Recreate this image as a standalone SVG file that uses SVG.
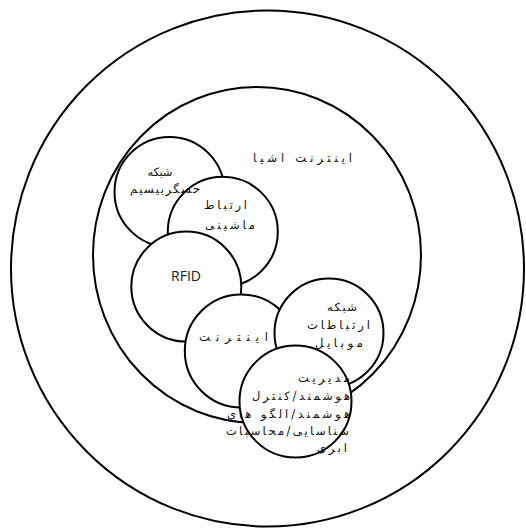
<svg xmlns="http://www.w3.org/2000/svg" width="526" height="529" viewBox="0 0 526 529">
  <style>
    .ring { fill: #fff; stroke: #000; stroke-width: 2; }
    .fa { font-family: "DejaVu Sans", "Noto Sans", sans-serif; font-size: 11.5px; fill: #111; direction: rtl; text-anchor: middle; }
    .fr { font-family: "DejaVu Sans", "Noto Sans", sans-serif; font-size: 11.5px; fill: #111; direction: rtl; text-anchor: start; }
    .en { font-family: "Open Sans", "Liberation Sans", sans-serif; font-size: 14px; fill: #222; text-anchor: middle; }
  </style>
  <rect width="526" height="529" fill="#fff"/>

  <!-- outer boundary -->
  <g id="outer">
    <ellipse class="ring" cx="267.5" cy="268.5" rx="256.5" ry="258"/>
  </g>

  <!-- Internet of Things -->
  <g id="iot">
    <ellipse class="ring" cx="257" cy="255" rx="164" ry="168"/>
    <text class="fa" x="302.5" y="162" textLength="99" lengthAdjust="spacing">اینترنت اشیا</text>
  </g>

  <!-- wireless sensor network (its label sits above the neighbouring circle) -->
  <g id="wsn">
    <circle class="ring" cx="169.5" cy="192" r="55"/>
  </g>

  <!-- machine-to-machine -->
  <g id="m2m">
    <circle class="ring" cx="222.8" cy="231.8" r="55"/>
    <text class="fa" x="225.5" y="209" textLength="43" lengthAdjust="spacing">ارتباط</text>
    <text class="fa" x="230" y="229" textLength="50" lengthAdjust="spacing">ماشینی</text>
  </g>

  <g id="wsn-label">
    <text class="fa" x="160" y="176" textLength="25" lengthAdjust="spacing">شبکه</text>
    <text class="fa" x="165" y="193" textLength="70" lengthAdjust="spacing">حسگربیسیم</text>
  </g>

  <!-- RFID -->
  <g id="rfid">
    <circle class="ring" cx="186.3" cy="286.6" r="55"/>
    <text class="en" x="186" y="281">RFID</text>
  </g>

  <!-- internet -->
  <g id="internet">
    <circle class="ring" cx="241.3" cy="351" r="56.5"/>
    <text class="fa" x="233.5" y="341" textLength="69" lengthAdjust="spacing">اینترنت</text>
  </g>

  <!-- mobile network -->
  <g id="mobile">
    <circle class="ring" cx="329" cy="333" r="54.5"/>
    <text class="fa" x="342" y="311" textLength="30" lengthAdjust="spacing">شبکه</text>
    <text class="fa" x="338.5" y="329" textLength="63" lengthAdjust="spacing">ارتباطات</text>
    <text class="fa" x="339" y="347" textLength="48" lengthAdjust="spacing">موبایل</text>
  </g>

  <!-- smart management / cloud -->
  <g id="cloud">
    <circle class="ring" cx="295.5" cy="401.5" r="56"/>
    <text class="fr" x="350" y="382" textLength="52" lengthAdjust="spacing">مدیریت</text>
    <text class="fr" x="350" y="400" textLength="98" lengthAdjust="spacing">هوشمند/کنترل</text>
    <text class="fr" x="350" y="418" textLength="123" lengthAdjust="spacing">هوشمند/الگو های</text>
    <text class="fr" x="349" y="435" textLength="123" lengthAdjust="spacing">شناسایی/محاسبات</text>
    <text class="fr" x="347" y="452" textLength="30" lengthAdjust="spacing">ابری</text>
  </g>
</svg>
